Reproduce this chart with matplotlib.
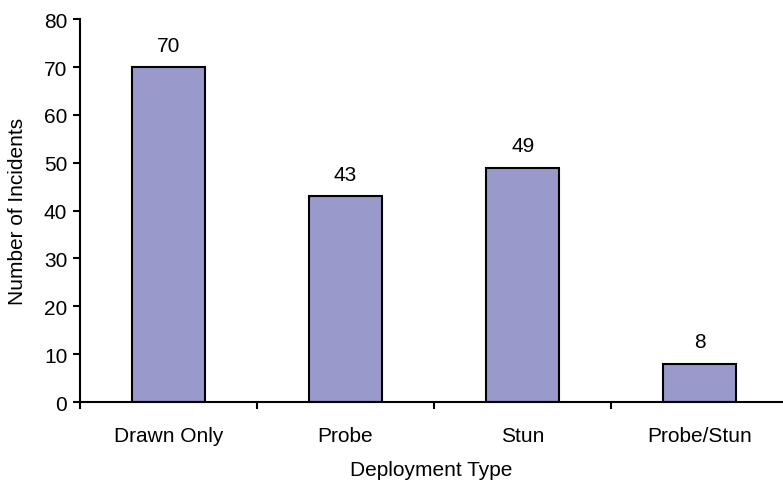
import numpy as np
import matplotlib.pyplot as plt

# incident counts per deployment type
categories = ["Drawn Only", "Probe", "Stun", "Probe/Stun"]
incidents = [70, 43, 49, 8]
y_ticks = [0, 10, 20, 30, 40, 50, 60, 70, 80]

plt.rcParams['font.family'] = ['Liberation Sans', 'DejaVu Sans']
fs = 15

fig = plt.figure(figsize=(7.83, 4.81), dpi=100)
ax = fig.add_axes([0.102, 0.162, 0.898, 0.796])

x = np.arange(len(categories))
bars = ax.bar(x, incidents, width=0.41, color='#9999CC',
              edgecolor='black', linewidth=1.5)

# value labels above each bar
for xi, v in zip(x, incidents):
  ax.annotate(str(v), (xi, v), xytext=(0, 9), textcoords='offset points',
              ha='center', va='bottom', fontsize=fs)

ax.set_yticks(y_ticks)
ax.tick_params(axis='y', direction='out', length=5, width=1.5, labelsize=fs, pad=4)

# category boundaries get tick marks, labels sit at bar centres
ax.set_xticks(np.arange(-0.5, len(categories) - 1, 1.0))
ax.set_xticklabels([])
ax.set_xticks(x, minor=True)
ax.set_xticklabels(categories, minor=True)
ax.tick_params(axis='x', which='major', direction='out', length=5, width=1.5)
ax.tick_params(axis='x', which='minor', length=0, labelsize=fs, pad=17)

ax.set_xlim(-0.5, 3.47)
ax.set_ylim(0, 80)

for s in ['top', 'right']:
  ax.spines[s].set_visible(False)
for s in ['left', 'bottom']:
  ax.spines[s].set_linewidth(1.5)

ax.set_xlabel("Deployment Type", fontsize=fs, labelpad=11)
ax.set_ylabel("Number of Incidents", fontsize=fs, labelpad=12)

fig.savefig("out.png", dpi=100)
